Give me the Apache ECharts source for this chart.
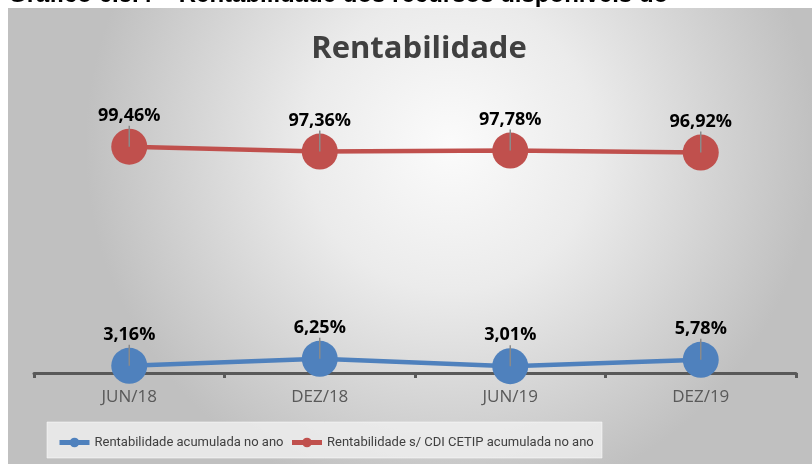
<!DOCTYPE html>
<html>
<head>
<meta charset="utf-8">
<script src="https://cdn.jsdelivr.net/npm/echarts@6/dist/echarts.min.js"></script>
<style>
html,body{margin:0;padding:0;background:#fff;}
#chart{width:812px;height:464px;}
</style>
</head>
<body>
<div id="chart"></div>
<script>
var categorias = ['JUN/18', 'DEZ/18', 'JUN/19', 'DEZ/19'];
var rentAcumulada = [3.16, 6.25, 3.01, 5.78];
var rentCdi = [99.46, 97.36, 97.78, 96.92];
var nomeSerie1 = 'Rentabilidade acumulada no ano';
var nomeSerie2 = 'Rentabilidade s/ CDI CETIP acumulada no ano';

var chart = echarts.init(document.getElementById('chart'));

function fmt(p){
	return p.value.toFixed(2).replace('.', ',') + '%';
}

function serie(nome, dados, cor){
	return {
		name: nome,
		type: 'line',
		data: dados,
		symbol: 'circle',
		symbolSize: 36,
		itemStyle: {color: cor},
		lineStyle: {color: cor, width: 4.5},
		label: {
			show: true,
			position: 'top',
			distance: 4,
			formatter: fmt,
			color: '#000',
			fontFamily: 'Open Sans',
			fontWeight: 'bold',
			fontSize: 18
		},
		// linhas de chamada dos rotulos
		markPoint: {
			silent: true,
			symbol: 'rect',
			symbolSize: [1.5, 21],
			symbolOffset: [0, -10.5],
			itemStyle: {color: '#8a8a8a'},
			label: {show: false},
			data: dados.map(function(v, i){ return {coord: [i, v]}; })
		}
	};
}

var option = {
	animation: false,
	graphic: [
		{
			type: 'rect',
			z: -10,
			shape: {x: 8, y: 8, width: 804, height: 456},
			style: {
				fill: {
					type: 'radial', x: 0.55, y: 0.3, r: 0.8,
					colorStops: [
						{offset: 0, color: '#fbfbfb'},
						{offset: 0.4, color: '#ebebeb'},
						{offset: 1, color: '#c0c0c0'}
					]
				}
			}
		},
		{
			type: 'text',
			left: 8,
			top: -17,
			style: {
				text: 'Gráfico 6.5.4 – Rentabilidade dos recursos disponíveis do',
				font: 'bold 24px "Liberation Sans"',
				fill: '#000'
			}
		},
		{
			type: 'rect',
			z: -5,
			shape: {x: 47, y: 422, width: 555, height: 36},
			style: {fill: 'rgba(240,240,240,0.8)', stroke: 'rgba(255,255,255,0.5)', lineWidth: 1}
		}
	],
	title: {
		text: 'Rentabilidade',
		left: 414,
		textAlign: 'center',
		top: 29,
		textStyle: {
			fontFamily: 'Open Sans',
			fontWeight: 'bold',
			fontSize: 31,
			color: '#404040'
		}
	},
	legend: {
		left: 52,
		top: 431,
		itemWidth: 30,
		itemHeight: 12,
		itemGap: 6,
		lineStyle: {width: 5},
		textStyle: {
			fontFamily: 'Roboto',
			fontSize: 13,
			color: '#404040'
		},
		data: [nomeSerie1, nomeSerie2]
	},
	grid: {left: 34, right: 16, top: 100, bottom: 91},
	xAxis: {
		type: 'category',
		data: categorias,
		boundaryGap: true,
		axisLine: {lineStyle: {color: '#595959', width: 3}},
		axisTick: {show: true, length: 5, lineStyle: {color: '#595959', width: 3}},
		axisLabel: {
			color: '#595959',
			fontFamily: 'Open Sans',
			fontSize: 17,
			margin: 16
		}
	},
	yAxis: {
		type: 'value',
		min: 0,
		max: 120,
		show: false,
		splitLine: {show: false}
	},
	series: [
		serie(nomeSerie1, rentAcumulada, '#4F81BD'),
		serie(nomeSerie2, rentCdi, '#C0504D')
	]
};
chart.setOption(option);
</script>
</body>
</html>
